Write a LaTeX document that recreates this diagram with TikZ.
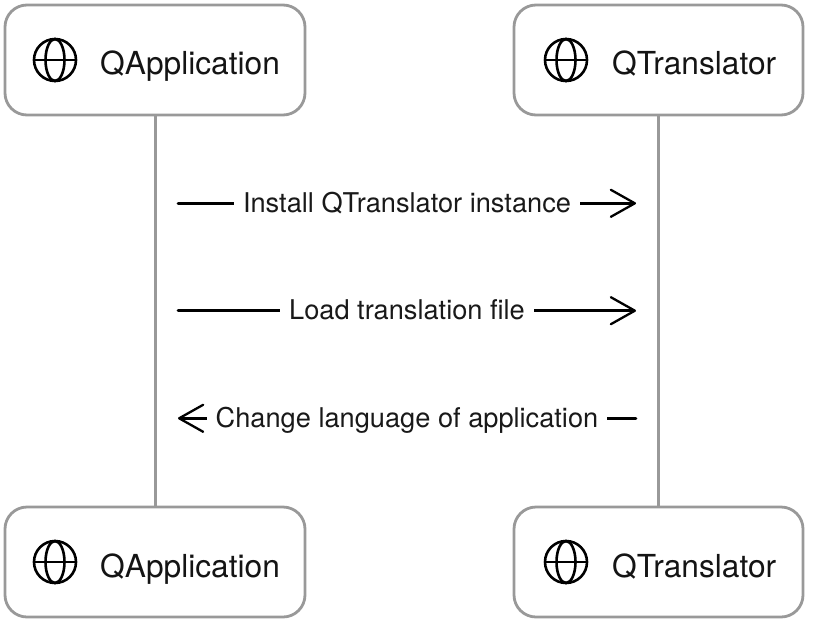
\documentclass[tikz,border=0pt]{standalone}
\usepackage{fontspec}
\setmainfont{TeX Gyre Heros}
\usetikzlibrary{arrows.meta}
\tikzset{
  actor/.style={draw=boxgray,line width=2.8pt,rounded corners=22pt,fill=white,minimum height=110pt,inner sep=0pt},
  lifeline/.style={draw=boxgray,line width=3pt},
  msg/.style={draw=black,line width=2.6pt,line cap=round},
  barb/.style={-{Straight Barb[length=24pt,width=27pt,line width=2.3pt,round]}},
  msglabel/.style={fill=white,inner xsep=9pt,inner ysep=0pt,text height=21pt,text depth=3pt,font=\fontsize{27.2pt}{30pt}\selectfont,text=black!90},
  acttext/.style={font=\fontsize{31.7pt}{36pt}\selectfont,text=black!92,anchor=base west,inner sep=0pt},
  globe/.style={draw=black,line width=2.6pt},
}
\definecolor{boxgray}{HTML}{999999}
\newcommand{\globeicon}[1]{%
  \draw[globe] (#1) circle (21pt);
  \draw[globe] ([xshift=-21pt]#1) -- ([xshift=21pt]#1);
  \draw[globe] (#1) ellipse (9.5pt and 21pt);
}
\begin{document}
\begin{tikzpicture}[x=1pt,y=-1pt]
\useasboundingbox (0,0) rectangle (818,632);
\node[actor,minimum width=300pt] (qa1) at (155,60) {};
\node[actor,minimum width=289pt] (qt1) at (658.5,60) {};
\node[actor,minimum width=300pt] (qa2) at (155,562) {};
\node[actor,minimum width=289pt] (qt2) at (658.5,562) {};
\draw[lifeline] (qa1.south) -- (qa2.north);
\draw[lifeline] ([xshift=-0.5pt]qt1.south) -- ([xshift=-0.5pt]qt2.north);
\coordinate (g1) at (55,60);
\coordinate (g2) at (566,60);
\coordinate (g3) at (55,562);
\coordinate (g4) at (566,562);
\globeicon{g1}\globeicon{g2}\globeicon{g3}\globeicon{g4}
\node[acttext] (t1) at (100,74) {QApplication};
\node[acttext] (t2) at (612,74) {QTranslator};
\node[acttext] (t3) at (100,577) {QApplication};
\node[acttext] (t4) at (612,577) {QTranslator};
\coordinate (a1) at (178,203.3);
\coordinate (b1) at (636,203.3);
\coordinate (a2) at (178,310.7);
\coordinate (b2) at (636,310.7);
\coordinate (a3) at (178,418.3);
\coordinate (b3) at (636,418.3);
\draw[msg,barb] (a1) -- node[msglabel] (l1) {Install QTranslator instance} (b1);
\draw[msg,barb] (a2) -- node[msglabel] (l2) {Load translation file} (b2);
\draw[msg,barb] (b3) -- node[msglabel] (l3) {Change language of application} (a3);
\end{tikzpicture}
\end{document}
